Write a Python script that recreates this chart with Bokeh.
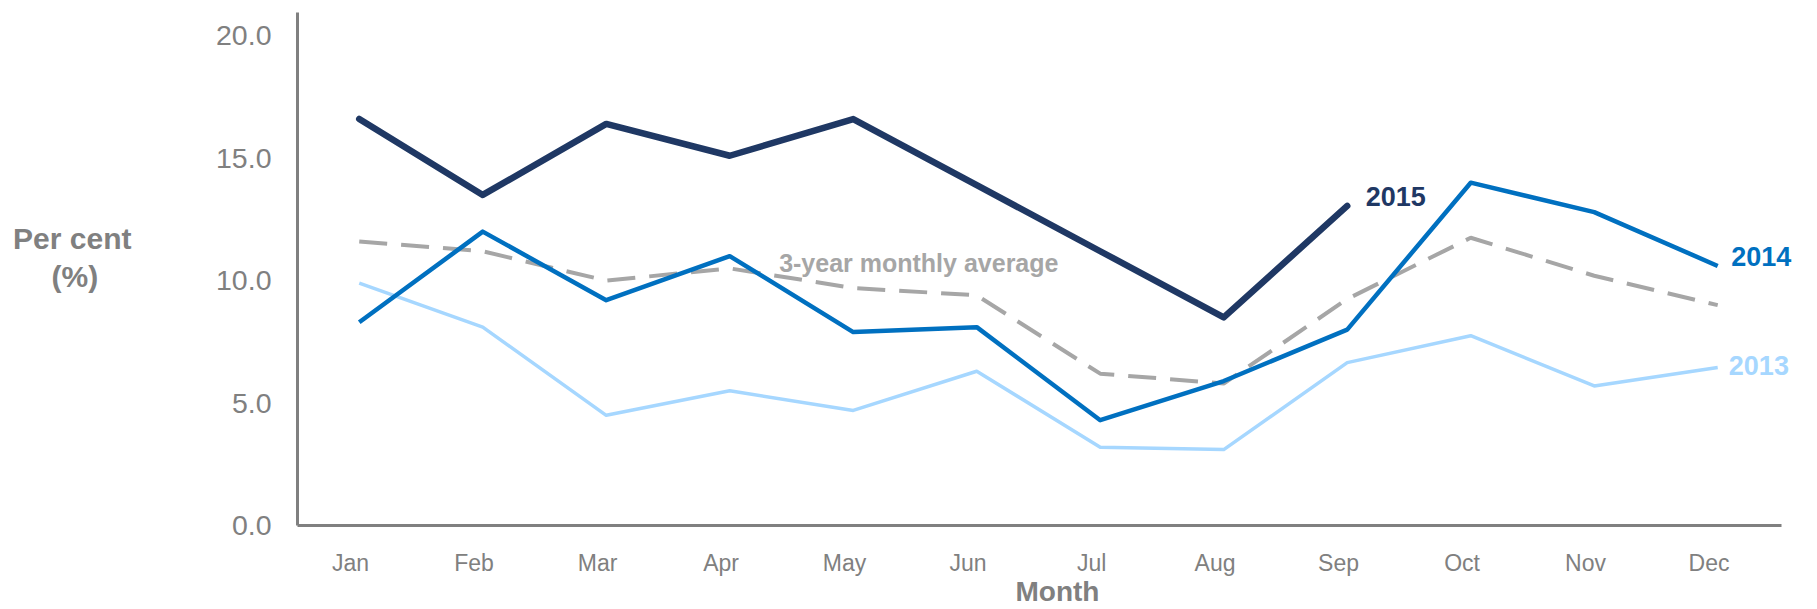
from bokeh.plotting import figure
from bokeh.models import (Range1d, FixedTicker, NumeralTickFormatter, Label, LinearAxis,
                          CustomJSTickFormatter)
from bokeh.embed import file_html
from bokeh.resources import INLINE

months = ["Jan", "Feb", "Mar", "Apr", "May", "Jun", "Jul", "Aug", "Sep", "Oct", "Nov", "Dec"]
y2015 = [16.6, 13.5, 16.4, 15.1, 16.6, 13.9, 11.2, 8.5, 13.05]
y2014 = [8.3, 12.0, 9.2, 11.0, 7.9, 8.1, 4.3, 5.9, 8.0, 14.0, 12.8, 10.6]
y2013 = [9.9, 8.1, 4.5, 5.5, 4.7, 6.3, 3.2, 3.1, 6.65, 7.75, 5.7, 6.45]
avg3 = [11.6, 11.2, 10.0, 10.5, 9.7, 9.4, 6.2, 5.8, 9.25, 11.75, 10.2, 9.0]
y_ticks = [0, 5, 10, 15, 20]

C2015 = "#1F3864"
C2014 = "#0070C0"
C2013 = "#A6D7FF"
CAVG = "#A6A6A6"
GREY = "#808080"

p = figure(width=1817, height=609, output_backend="svg", toolbar_location=None,
           x_range=Range1d(-0.5, 11.808), y_range=Range1d(0, 20.95),
           min_border_left=297, min_border_right=0, min_border_top=12, min_border_bottom=82)
p.outline_line_color = None
p.xgrid.visible = False
p.ygrid.visible = False
p.background_fill_color = "white"

xs = list(range(len(months)))

p.line(xs, y2013, line_color=C2013, line_width=3.5, line_join="round")
p.line(xs, avg3, line_color=CAVG, line_width=4, line_dash="28 14")
p.line(xs, y2014, line_color=C2014, line_width=4.5, line_join="round")
p.line(xs[:len(y2015)], y2015, line_color=C2015, line_width=6.5, line_join="round", line_cap="round")

# x axis: month labels sit a little left of the category centres, as in the original
xa = p.xaxis[0]
xa.ticker = FixedTicker(ticks=[i - 0.07 for i in xs])
xa.formatter = CustomJSTickFormatter(args=dict(months=months),
                                     code="return months[Math.round(tick)]")
xa.bounds = (-0.5, 11.516)
xa.axis_line_color = GREY
xa.axis_line_width = 3
xa.major_tick_line_color = None
xa.minor_tick_line_color = None
xa.major_tick_out = 0
xa.major_tick_in = 0
xa.major_label_standoff = 24
xa.major_label_text_font = "Liberation Sans"
xa.major_label_text_font_size = "23px"
xa.major_label_text_color = GREY
xa.axis_label = "Month"
xa.axis_label_text_font = "Liberation Sans"
xa.axis_label_text_font_style = "bold"
xa.axis_label_text_font_size = "28px"
xa.axis_label_text_color = GREY
xa.axis_label_standoff = -3

ya = p.yaxis[0]
ya.ticker = FixedTicker(ticks=y_ticks)
ya.formatter = NumeralTickFormatter(format="0.0")
ya.axis_line_color = GREY
ya.axis_line_width = 3
ya.major_tick_line_color = None
ya.minor_tick_line_color = None
ya.major_tick_out = 0
ya.major_tick_in = 0
ya.major_label_standoff = 26
ya.major_label_text_font = "Liberation Sans"
ya.major_label_text_font_size = "28.5px"
ya.major_label_text_color = GREY

# y-axis title in two centred lines, drawn by an unlined outer axis
title_axis = LinearAxis(ticker=FixedTicker(ticks=[11.73, 10.15]),
                        major_label_overrides={11.73: "Per cent", 10.15: "(%)" + "\u00a0" * 4})
title_axis.axis_line_color = None
title_axis.major_tick_line_color = None
title_axis.minor_tick_line_color = None
title_axis.major_tick_out = 0
title_axis.major_tick_in = 0
title_axis.major_label_standoff = 82
title_axis.major_label_text_font = "Liberation Sans"
title_axis.major_label_text_font_style = "bold"
title_axis.major_label_text_font_size = "30px"
title_axis.major_label_text_color = GREY
p.add_layout(title_axis, "left")

# series labels, anchored at each series' last point
def add_label(text, x, y, color, size="27px"):
    p.add_layout(Label(x=x, y=y, text=text, text_color=color, text_font="Liberation Sans",
                       text_font_style="bold", text_font_size=size, text_baseline="middle",
                       text_align="left"))

add_label("2015", len(y2015) - 1 + 0.15, y2015[-1] + 0.38, C2015)
add_label("2014", len(y2014) - 1 + 0.11, y2014[-1] + 0.4, C2014)
add_label("2013", len(y2013) - 1 + 0.09, y2013[-1] + 0.07, C2013)
add_label("3-year monthly average", 3.40, avg3[3] + 0.23, CAVG, size="25px")

open("out.html", "w").write(file_html(p, INLINE))
